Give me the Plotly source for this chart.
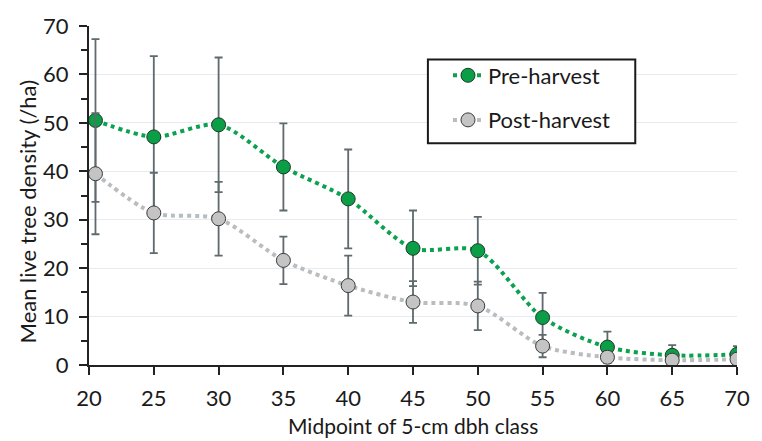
import plotly.graph_objects as go

dbh_mid = [20.5, 25, 30, 35, 40, 45, 50, 55, 60, 65, 70]
pre_mean = [50.5, 47.1, 49.6, 40.9, 34.3, 24.1, 23.6, 9.8, 3.7, 2.0, 2.2]
pre_err = [16.8, 16.7, 13.9, 9.0, 10.2, 7.8, 7.0, 5.1, 3.2, 2.1, 1.7]
post_mean = [39.5, 31.4, 30.2, 21.6, 16.4, 13.0, 12.2, 3.9, 1.6, 1.0, 1.2]
post_err = [12.5, 8.3, 7.6, 4.9, 6.2, 4.3, 5.0, 2.3, 1.2, 0.8, 0.9]
x_ticks = [20, 25, 30, 35, 40, 45, 50, 55, 60, 65, 70]
y_ticks = [0, 10, 20, 30, 40, 50, 60, 70]
x_title = "Midpoint of 5-cm dbh class"
y_title = "Mean live tree density (/ha)"

FONT = "Lato"
TXT = "#1a1a1a"
ERR_COLOR = "#5e6a6e"

fig = go.Figure()
fig.add_trace(go.Scatter(
    x=dbh_mid, y=pre_mean, name="Pre-harvest", mode="lines+markers",
    line=dict(color="#0aa24f", width=4, dash="4px,4px", shape="spline", smoothing=0.8),
    marker=dict(size=14, color="#0a9e47", line=dict(color="#1f3a2a", width=1)),
    error_y=dict(type="data", array=pre_err, visible=True, color=ERR_COLOR, thickness=1.8, width=4),
    legendgroup="a",
))
fig.add_trace(go.Scatter(
    x=dbh_mid, y=post_mean, name="Post-harvest", mode="lines+markers",
    line=dict(color="#b9bdbf", width=4, dash="4px,4px", shape="spline", smoothing=0.8),
    marker=dict(size=14, color="#c4c4c4", line=dict(color="#3a3a3a", width=1)),
    error_y=dict(type="data", array=post_err, visible=True, color=ERR_COLOR, thickness=1.8, width=4),
    legendgroup="b",
))

fig.update_layout(
    width=762, height=441,
    margin=dict(l=89, r=25, t=21, b=76),
    paper_bgcolor="white", plot_bgcolor="white",
    font=dict(family=FONT, size=21, color=TXT),
    showlegend=True,
    legend=dict(
        x=0.554, y=0.916, xanchor="left", yanchor="top",
        borderwidth=0, bgcolor="rgba(0,0,0,0)",
        font=dict(family=FONT, size=22, color=TXT),
        tracegroupgap=13, traceorder="grouped",
    ),
    shapes=[dict(
        type="rect", xref="paper", yref="paper",
        x0=0.523, x1=0.843, y0=0.654, y1=0.901,
        line=dict(color=TXT, width=2), fillcolor="white", layer="above",
    )],
    annotations=[
        dict(text=x_title, xref="paper", yref="paper", x=0.5, y=0, yshift=-75,
             xanchor="center", yanchor="bottom", showarrow=False,
             font=dict(family=FONT, size=21, color=TXT)),
        dict(text=y_title, xref="paper", yref="paper", x=0, y=0.45, xshift=-62,
             xanchor="center", yanchor="middle", textangle=-90, showarrow=False,
             font=dict(family=FONT, size=22, color=TXT)),
    ],
    xaxis=dict(
        range=[20, 70], tickvals=x_ticks, ticks="outside", ticklen=8, tickwidth=2,
        tickcolor="#222", showline=True, linecolor="#222", linewidth=2,
        showgrid=False, zeroline=False, ticklabelstandoff=5,
        tickfont=dict(size=22),
    ),
    yaxis=dict(
        range=[0, 70], tickvals=y_ticks, ticks="outside", ticklen=8, tickwidth=2,
        tickcolor="#222", showline=True, linecolor="#222", linewidth=2,
        showgrid=True, gridcolor="#e6ebf0", gridwidth=1, zeroline=False,
        minor=dict(dtick=5, ticks="outside", ticklen=6, tickwidth=2, tickcolor="#222", showgrid=False),
        ticklabelstandoff=6,
        tickfont=dict(size=22),
    ),
)

fig.write_html("out.html")
